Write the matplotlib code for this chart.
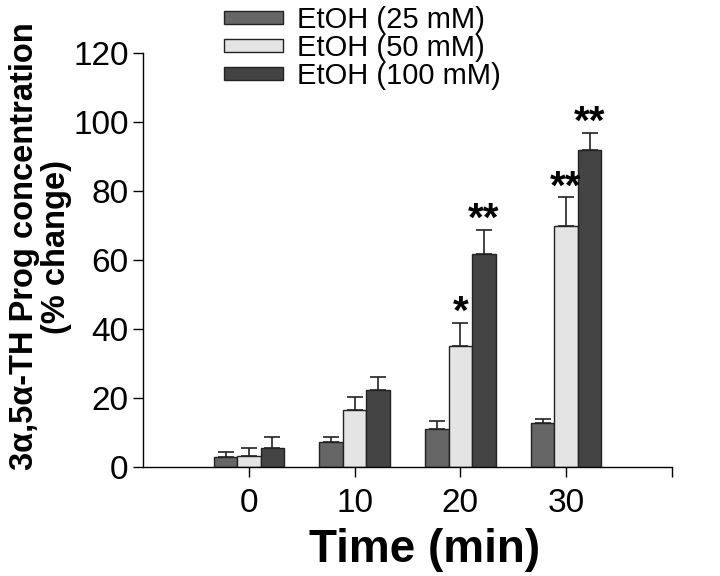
import matplotlib
matplotlib.use('Agg')
import matplotlib.pyplot as plt
import numpy as np

plt.rcParams['font.family'] = ['Liberation Sans', 'DejaVu Sans']

times = ['0', '10', '20', '30']
labels = ['EtOH (25 mM)', 'EtOH (50 mM)', 'EtOH (100 mM)']
mean_25 = [2.9, 7.3, 11.1, 12.8]
err_25 = [1.5, 1.5, 2.4, 1.1]
mean_50 = [3.2, 16.6, 35.0, 69.9]
err_50 = [2.3, 3.6, 6.8, 8.3]
mean_100 = [5.6, 22.3, 61.9, 91.9]
err_100 = [3.2, 3.9, 6.8, 5.0]
stars_50 = ['', '', '*', '**']
stars_100 = ['', '', '**', '**']
colors = ['#666666', '#e4e4e4', '#444444']

fig = plt.figure(figsize=(7.2, 5.76), dpi=100)
ax = fig.add_axes([0.199, 0.189, 0.734, 0.719])

x = np.arange(len(times))
w = 0.222
means = [mean_25, mean_50, mean_100]
errs = [err_25, err_50, err_100]
for i in range(3):
    ax.bar(x + (i - 1) * w, means[i], w, color=colors[i], edgecolor='#222222',
           linewidth=1.0, label=labels[i])
    ax.errorbar(x + (i - 1) * w, means[i], yerr=[np.zeros(4), errs[i]], fmt='none',
                ecolor='#222222', elinewidth=1.2, capsize=6, capthick=1.2)

# significance marks
for i, stars in [(1, stars_50), (2, stars_100)]:
    for j, s in enumerate(stars):
        if s:
            top = means[i][j] + errs[i][j]
            ax.text(x[j] + (i - 1) * w, top - 0.3, s, ha='center', va='baseline',
                    fontsize=29, fontweight='bold')

ax.set_xlim(-1, 4)
ax.set_ylim(0, 120)
ax.set_yticks(range(0, 121, 20))
ax.set_xticks(x)
ax.set_xticks([4], minor=True)
ax.set_xticklabels(times)
ax.tick_params(axis='both', which='both', labelsize=24, direction='out', length=7, width=1)
ax.tick_params(axis='x', pad=8)
ax.spines['top'].set_visible(False)
ax.spines['right'].set_visible(False)
ax.spines['left'].set_linewidth(1)
ax.spines['bottom'].set_linewidth(1)

fig.text(0.590, 0.025, 'Time (min)', fontsize=33, fontweight='bold',
         ha='center', va='baseline')
fig.text(0.056, 0.572, '3\u03b1,5\u03b1-TH Prog concentration\n(% change)', fontsize=23.5,
         fontweight='bold', rotation=90, ha='center', va='center',
         multialignment='center', linespacing=1.05)

ax.legend(loc='upper left', bbox_to_anchor=(0.275, 1.035), bbox_transform=fig.transFigure,
          frameon=False, fontsize=21, handlelength=2.0, handleheight=0.3,
          handletextpad=0.5, labelspacing=0.0)

fig.savefig('out.png', dpi=100)
